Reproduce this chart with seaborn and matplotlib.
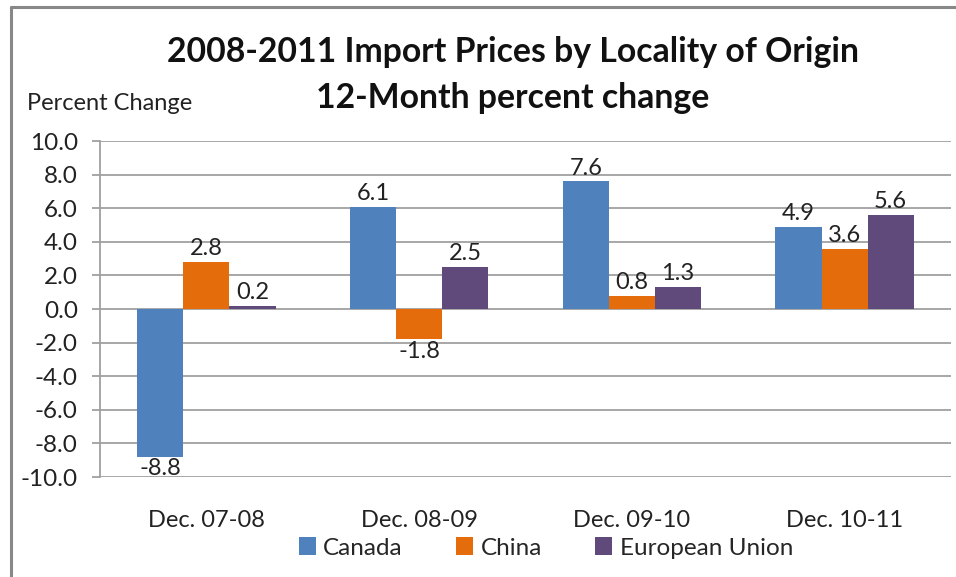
import matplotlib
matplotlib.use("Agg")
import matplotlib.pyplot as plt
import seaborn as sns
import pandas as pd
from matplotlib.lines import Line2D
from matplotlib.patches import Patch

periods = ["Dec. 07-08", "Dec. 08-09", "Dec. 09-10", "Dec. 10-11"]
series = ["Canada", "China", "European Union"]
canada = [-8.8, 6.1, 7.6, 4.9]
china = [2.8, -1.8, 0.8, 3.6]
eu = [0.2, 2.5, 1.3, 5.6]
yticks = [-10, -8, -6, -4, -2, 0, 2, 4, 6, 8, 10]
colors = ["#4F81BD", "#E46C0A", "#604A7B"]

rows = []
for name, vals in zip(series, [canada, china, eu]):
    for p, v in zip(periods, vals):
        rows.append({"Period": p, "Series": name, "Value": v})
df = pd.DataFrame(rows)

sns.set_theme(style="white")
plt.rcParams["font.family"] = ["Lato", "DejaVu Sans"]

fig = plt.figure(figsize=(9.56, 5.77), dpi=100)
ax = fig.add_axes([100/956, 1-477/577, 851/956, 336/577])

sns.barplot(data=df, x="Period", y="Value", hue="Series", order=periods,
            hue_order=series, palette=colors, width=0.65, gap=0,
            saturation=1, ax=ax, legend=False, edgecolor="none")

ax.set_ylim(-10, 10)
ax.set_xlim(-0.5, 3.5)
ax.set_yticks(yticks)
ax.set_yticklabels([f"{t:.1f}" for t in yticks], fontsize=17.5, color="#222222")
ax.yaxis.grid(True, color="#A0A0A0", linewidth=1.3)
ax.set_axisbelow(True)
for s in ["top", "right", "bottom"]:
    ax.spines[s].set_visible(False)
ax.spines["left"].set_color("#A0A0A0")
ax.spines["left"].set_linewidth(1.3)
ax.tick_params(axis="y", length=6, width=1.3, color="#A0A0A0", pad=10, left=True)
ax.tick_params(axis="x", length=0, pad=24, labelsize=17, labelcolor="#222222")
ax.set_xlabel("")
ax.set_ylabel("")

for cont in ax.containers:
    for bar in cont:
        h = bar.get_height()
        x = bar.get_x() + bar.get_width()/2
        if h >= 0:
            ax.annotate(f"{h:.1f}", (x, h), xytext=(0, 2), textcoords="offset points",
                        ha="center", va="bottom", fontsize=17, color="#222222")
        else:
            ax.annotate(f"{h:.1f}", (x, h), xytext=(0, -1), textcoords="offset points",
                        ha="center", va="top", fontsize=17, color="#222222")

fig.text(513/956, 1-52/577, "2008-2011 Import Prices by Locality of Origin",
         ha="center", va="center", fontsize=24.3, fontweight="bold", color="#111111")
fig.text(513/956, 1-98/577, "12-Month percent change",
         ha="center", va="center", fontsize=24.3, fontweight="bold", color="#111111")
fig.text(27/956, 1-104/577, "Percent Change", ha="left", va="center",
         fontsize=17, color="#222222")

handles = [Patch(facecolor=c, edgecolor="none", label=n) for c, n in zip(colors, series)]
fig.legend(handles=handles, loc="center", bbox_to_anchor=(546/956, 1-548/577),
           ncol=3, frameon=False, fontsize=17.5, handlelength=0.7, handleheight=0.7,
           handletextpad=0.3, columnspacing=2.2)

fig.add_artist(Line2D([11/956, 11/956], [0, 1-7/577], color="#888888", linewidth=2.2,
                      transform=fig.transFigure))
fig.add_artist(Line2D([11/956, 1], [1-7/577, 1-7/577], color="#888888", linewidth=2.2,
                      transform=fig.transFigure))

fig.savefig("out.png", dpi=100)
